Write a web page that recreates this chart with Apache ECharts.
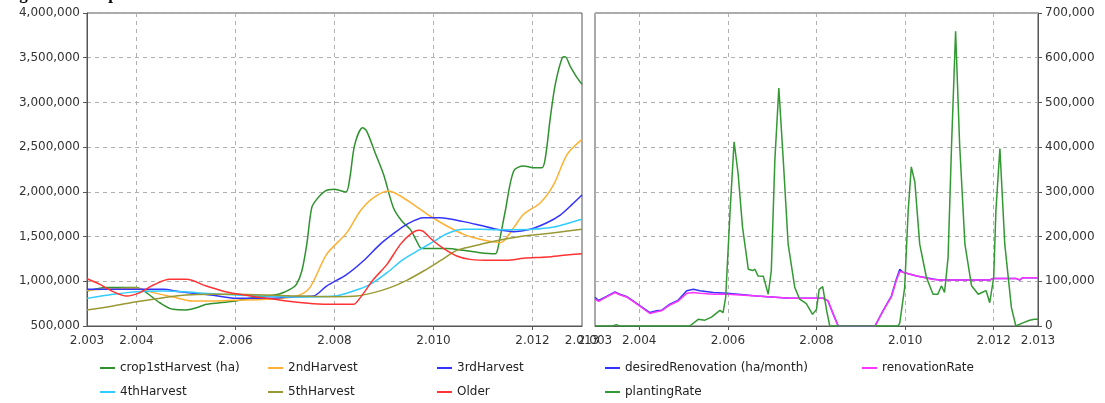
<!DOCTYPE html>
<html>
<head>
<meta charset="utf-8">
<script src="https://cdn.jsdelivr.net/npm/echarts@6/dist/echarts.min.js"></script>
<style>html,body{margin:0;padding:0;background:#fff;}#c{width:1105px;height:403px;}</style>
</head>
<body>
<div id="c"></div>
<script>
// ---- data (x = year, y = value) ----
const titleText = 'Age of the crop';
const leftNames = ['crop1stHarvest (ha)', '2ndHarvest', '3rdHarvest', '4thHarvest', '5thHarvest', 'Older'];
const rightNames = ['desiredRenovation (ha/month)', 'renovationRate', 'plantingRate'];
const xLabelYears = [2003, 2004, 2006, 2008, 2010, 2012, 2013];
const xTickYears = [2004, 2006, 2008, 2010, 2012];

const crop1stHarvest = [[2003.00,890000],[2003.39,930000],[2004.00,930000],[2004.20,873000],[2004.47,760000],[2004.74,686000],[2005.01,680000],[2005.21,705000],[2005.41,742000],[2005.68,760000],[2006.00,780000],[2006.36,817000],[2006.63,835000],[2006.90,861000],[2007.10,910000],[2007.23,966000],[2007.34,1115000],[2007.44,1413000],[2007.54,1823000],[2007.64,1916000],[2007.81,2009000],[2008.00,2028000],[2008.23,1998000],[2008.31,2158000],[2008.41,2531000],[2008.57,2718000],[2008.65,2680000],[2008.82,2438000],[2008.99,2196000],[2009.19,1823000],[2009.36,1674000],[2009.53,1580000],[2009.66,1450000],[2009.76,1368000],[2010.00,1368000],[2010.27,1368000],[2010.61,1346000],[2010.94,1320000],[2011.25,1309000],[2011.31,1394000],[2011.45,1786000],[2011.62,2233000],[2011.82,2289000],[2012.02,2270000],[2012.19,2270000],[2012.26,2382000],[2012.36,2829000],[2012.46,3202000],[2012.60,3500000],[2012.66,3511000],[2012.76,3407000],[2012.90,3277000],[2013.00,3202000]];
const harvest2nd = [[2003.00,899000],[2004.00,921000],[2004.34,873000],[2004.74,824000],[2005.14,780000],[2005.55,780000],[2006.00,787000],[2006.63,798000],[2007.23,835000],[2007.50,929000],[2007.84,1301000],[2008.25,1544000],[2008.52,1786000],[2008.79,1935000],[2009.09,2009000],[2009.33,1954000],[2009.59,1860000],[2009.93,1730000],[2010.27,1618000],[2010.61,1525000],[2010.94,1469000],[2011.35,1432000],[2011.62,1600000],[2011.82,1749000],[2012.16,1879000],[2012.43,2084000],[2012.70,2419000],[2013.00,2587000]];
const harvest3rd = [[2003.00,910000],[2004.54,910000],[2004.87,884000],[2005.55,843000],[2006.00,809000],[2006.63,809000],[2007.23,828000],[2007.57,835000],[2007.84,947000],[2008.25,1078000],[2008.58,1227000],[2008.92,1413000],[2009.19,1532000],[2009.46,1637000],[2009.80,1711000],[2010.13,1711000],[2010.61,1667000],[2010.94,1626000],[2011.28,1581000],[2011.62,1555000],[2011.95,1581000],[2012.29,1655000],[2012.56,1741000],[2012.80,1860000],[2013.00,1965000]];
const harvest4th = [[2003.00,809000],[2003.53,854000],[2004.00,884000],[2004.54,891000],[2005.21,873000],[2006.00,847000],[2006.63,835000],[2007.23,824000],[2008.00,835000],[2008.38,891000],[2008.72,966000],[2009.06,1096000],[2009.39,1245000],[2009.73,1357000],[2010.00,1443000],[2010.27,1532000],[2010.61,1581000],[2010.94,1581000],[2011.28,1577000],[2011.62,1577000],[2012.00,1581000],[2012.43,1607000],[2012.76,1655000],[2013.00,1693000]];
const harvest5th = [[2003.00,679000],[2003.53,724000],[2004.00,772000],[2004.54,817000],[2005.01,847000],[2005.55,854000],[2006.00,854000],[2006.63,847000],[2007.23,835000],[2008.00,828000],[2008.45,835000],[2008.79,873000],[2009.12,929000],[2009.46,1011000],[2009.80,1115000],[2010.13,1227000],[2010.47,1346000],[2010.81,1394000],[2011.15,1439000],[2011.48,1476000],[2011.82,1506000],[2012.16,1525000],[2012.56,1551000],[2013.00,1581000]];
const older = [[2003.00,1029000],[2003.26,966000],[2003.53,884000],[2003.80,835000],[2004.07,873000],[2004.34,958000],[2004.67,1022000],[2005.01,1022000],[2005.41,947000],[2005.82,880000],[2006.22,843000],[2006.63,809000],[2007.03,780000],[2007.57,750000],[2008.00,742000],[2008.38,742000],[2008.52,817000],[2008.79,1022000],[2009.06,1189000],[2009.33,1413000],[2009.53,1525000],[2009.70,1570000],[2009.80,1555000],[2010.00,1450000],[2010.20,1368000],[2010.47,1283000],[2010.74,1245000],[2011.15,1234000],[2011.48,1234000],[2011.82,1257000],[2012.29,1271000],[2012.63,1290000],[2013.00,1309000]];

const desiredRenovation = [[2003.00,64000],[2003.08,57000],[2003.26,66000],[2003.45,76000],[2003.56,71000],[2003.71,66000],[2003.86,56000],[2004.02,45000],[2004.24,30000],[2004.39,34000],[2004.50,35000],[2004.69,49000],[2004.88,58000],[2005.07,79000],[2005.22,82000],[2005.37,79000],[2005.67,75000],[2005.99,73000],[2006.65,67000],[2007.40,62000],[2008.15,62000],[2008.26,56000],[2008.38,26000],[2008.49,0],[2009.32,0],[2009.50,34000],[2009.69,67000],[2009.80,104000],[2009.88,127000],[2009.95,120000],[2010.26,112000],[2010.63,105000],[2010.78,103000],[2011.16,103000],[2011.91,103000],[2011.98,106000],[2012.51,106000],[2012.59,103000],[2012.66,108000],[2013.00,108000]];
const renovationRate = [[2003.00,60000],[2003.08,55000],[2003.26,65000],[2003.45,75000],[2003.56,70000],[2003.71,65000],[2003.86,55000],[2004.02,44000],[2004.24,28000],[2004.39,32000],[2004.50,34000],[2004.69,47000],[2004.88,56000],[2005.07,73000],[2005.22,75000],[2005.37,73000],[2005.67,71000],[2005.99,71000],[2006.65,67000],[2007.40,62000],[2008.15,62000],[2008.26,56000],[2008.38,26000],[2008.49,0],[2009.32,0],[2009.50,33000],[2009.69,65000],[2009.80,101000],[2009.88,122000],[2009.95,120000],[2010.26,112000],[2010.63,104000],[2010.78,103000],[2011.16,103000],[2011.91,103000],[2011.98,106000],[2012.51,106000],[2012.59,103000],[2012.66,108000],[2013.00,108000]];
const plantingRate = [[2003.00,0],[2003.40,0],[2003.48,3000],[2003.55,0],[2005.14,0],[2005.33,15000],[2005.48,13000],[2005.63,20000],[2005.82,35000],[2005.89,30000],[2005.95,64000],[2006.05,258000],[2006.14,412000],[2006.23,341000],[2006.33,221000],[2006.46,127000],[2006.56,124000],[2006.61,127000],[2006.68,112000],[2006.80,111000],[2006.91,71000],[2006.98,124000],[2007.06,371000],[2007.15,532000],[2007.25,371000],[2007.36,183000],[2007.51,86000],[2007.62,60000],[2007.77,50000],[2007.91,26000],[2008.00,37000],[2008.06,82000],[2008.14,88000],[2008.23,34000],[2008.30,0],[2009.84,0],[2009.88,7000],[2009.99,86000],[2010.07,258000],[2010.14,356000],[2010.22,322000],[2010.33,183000],[2010.48,109000],[2010.63,71000],[2010.74,71000],[2010.82,90000],[2010.89,75000],[2010.97,153000],[2011.05,408000],[2011.14,659000],[2011.23,408000],[2011.35,183000],[2011.50,90000],[2011.65,71000],[2011.76,76000],[2011.83,79000],[2011.91,52000],[2012.00,109000],[2012.05,258000],[2012.14,397000],[2012.25,183000],[2012.40,41000],[2012.50,0],[2012.66,7000],[2012.81,13000],[2012.92,15000],[2013.00,15000]];

const leftColors = ['#2f922f', '#ffb133', '#3333ff', '#33ccff', '#999933', '#ff3333'];
const rightColors = ['#3333ff', '#ff33ff', '#339933'];

// ---- chart ----
const FONT = 'DejaVu Sans';
const chart = echarts.init(document.getElementById('c'), null, {renderer: 'canvas'});
const fmtYear = v => { const r = Math.round(v); return Math.floor(r / 1000) + '.' + String(r % 1000).padStart(3, '0'); };
const fmtNum = v => Math.round(v).toLocaleString('en-US');
const axisColor = '#555';
const gridLine = {show: true, lineStyle: {color: '#b0b0b0', type: [4, 4], width: 1}};

function xAxis(gi) {
  return {
    type: 'value', gridIndex: gi, min: 2003, max: 2013, interval: 1,
    axisLine: {show: true, lineStyle: {color: axisColor}},
    axisTick: {show: true, length: 4, customValues: xTickYears, lineStyle: {color: axisColor}},
    axisLabel: {customValues: xLabelYears, formatter: fmtYear, color: '#333', fontFamily: FONT, fontSize: 12, margin: 9},
    splitLine: gridLine
  };
}

const legendBase = {orient: 'vertical', icon: 'rect', itemWidth: 15, itemHeight: 2, itemGap: 12,
  textStyle: {fontFamily: FONT, fontSize: 12, color: '#222'}, selectedMode: false, top: 357};

const mkLine = (name, data, color, xi, yi, smooth) => ({
  name, type: 'line', data, xAxisIndex: xi, yAxisIndex: yi, showSymbol: false, symbol: 'none',
  smooth: smooth, lineStyle: {color, width: 1.5}, itemStyle: {color}, animation: false
});

chart.setOption({
  animation: false,
  title: {text: titleText, left: 2, top: -19, textStyle: {fontFamily: 'Liberation Serif', fontWeight: 'bold', fontSize: 17, color: '#000'}},
  grid: [
    {left: 87, right: 523, top: 13, bottom: 77, show: true, borderColor: axisColor, borderWidth: 1, containLabel: false},
    {left: 595, right: 67, top: 13, bottom: 77, show: true, borderColor: axisColor, borderWidth: 1, containLabel: false}
  ],
  xAxis: [xAxis(0), xAxis(1)],
  yAxis: [
    {type: 'value', gridIndex: 0, min: 500000, max: 4000000, interval: 500000,
      axisLine: {show: true, lineStyle: {color: axisColor}},
      axisTick: {show: true, length: 4, lineStyle: {color: axisColor}},
      axisLabel: {formatter: fmtNum, color: '#333', fontFamily: FONT, fontSize: 12, margin: 7},
      splitLine: gridLine},
    {type: 'value', gridIndex: 1, position: 'right', min: 0, max: 700000, interval: 100000,
      axisLine: {show: true, lineStyle: {color: axisColor}},
      axisTick: {show: true, length: 4, lineStyle: {color: axisColor}},
      axisLabel: {formatter: fmtNum, color: '#333', fontFamily: FONT, fontSize: 12, margin: 7},
      splitLine: gridLine}
  ],
  legend: [
    Object.assign({}, legendBase, {left: 95, data: [leftNames[0], leftNames[3]]}),
    Object.assign({}, legendBase, {left: 263, data: [leftNames[1], leftNames[4]]}),
    Object.assign({}, legendBase, {left: 432, data: [leftNames[2], leftNames[5]]}),
    Object.assign({}, legendBase, {left: 600, data: [rightNames[0], rightNames[2]]}),
    Object.assign({}, legendBase, {left: 857, data: [rightNames[1]]})
  ],
  series: [
    mkLine(leftNames[0], crop1stHarvest, leftColors[0], 0, 0, 0.3),
    mkLine(leftNames[1], harvest2nd, leftColors[1], 0, 0, 0.3),
    mkLine(leftNames[2], harvest3rd, leftColors[2], 0, 0, 0.3),
    mkLine(leftNames[3], harvest4th, leftColors[3], 0, 0, 0.3),
    mkLine(leftNames[4], harvest5th, leftColors[4], 0, 0, 0.3),
    mkLine(leftNames[5], older, leftColors[5], 0, 0, 0.3),
    mkLine(rightNames[0], desiredRenovation, rightColors[0], 1, 1, false),
    mkLine(rightNames[1], renovationRate, rightColors[1], 1, 1, false),
    mkLine(rightNames[2], plantingRate, rightColors[2], 1, 1, false)
  ]
});
</script>
</body>
</html>
